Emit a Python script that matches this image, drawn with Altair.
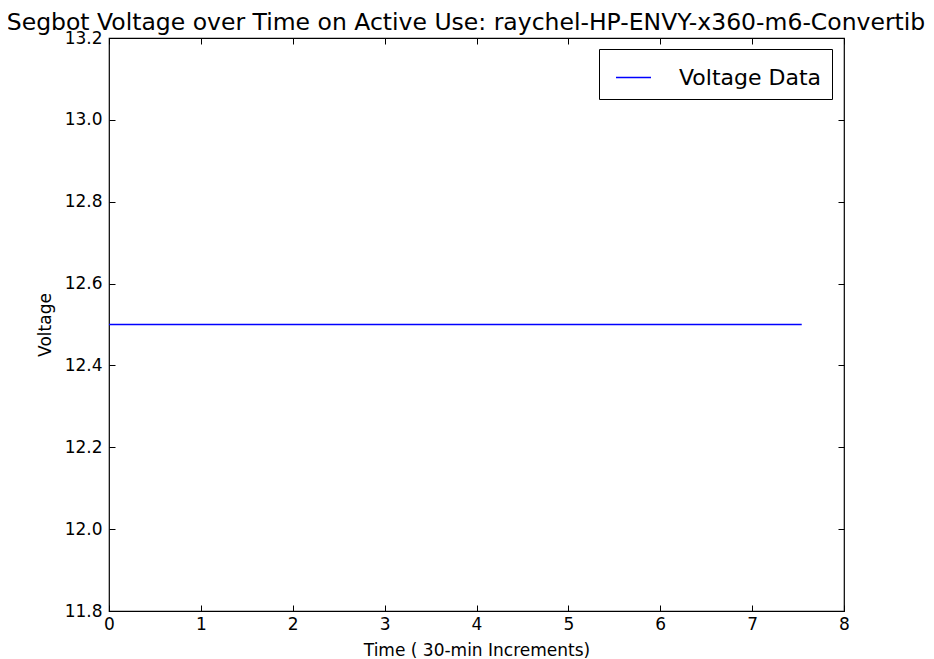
import altair as alt
import pandas as pd

# Data
time_vals = [0.0, 7.54]
voltage_vals = [12.5, 12.5]
series_name = ["Voltage Data", "Voltage Data"]

x_ticks = [0, 1, 2, 3, 4, 5, 6, 7, 8]
y_ticks = [11.8, 12.0, 12.2, 12.4, 12.6, 12.8, 13.0, 13.2]

df = pd.DataFrame({"t": time_vals, "v": voltage_vals, "s": series_name})

FONT = "DejaVu Sans"
W, H = 735, 573
TICK = 6

xs = alt.Scale(domain=[0, 8], nice=False, zero=False)
ys = alt.Scale(domain=[11.8, 13.2], nice=False, zero=False)

chart = alt.Chart(df).mark_line(strokeWidth=1.5).encode(
    x=alt.X("t:Q", scale=xs, axis=alt.Axis(
        orient="bottom", values=x_ticks, format="d", ticks=False, domain=False,
        grid=True, gridColor="black", gridWidth=1, gridOpacity=1,
        gridDash=[TICK, H - 2 * TICK],
        title="Time ( 30-min Increments)", labelFontSize=17,
        labelPadding=5, titleFontSize=17, titleFontWeight="normal", titlePadding=10,
        labelColor="black", titleColor="black", labelFont=FONT, titleFont=FONT,
        labelFlush=False)),
    y=alt.Y("v:Q", scale=ys, axis=alt.Axis(
        orient="left", values=y_ticks, format=".1f", ticks=False, domain=False,
        grid=True, gridColor="black", gridWidth=1, gridOpacity=1,
        gridDash=[TICK, W - 2 * TICK],
        title="Voltage", labelFontSize=17, labelPadding=7,
        titleFontSize=17, titleFontWeight="normal", titlePadding=10,
        labelColor="black", titleColor="black", labelFont=FONT, titleFont=FONT,
        labelFlush=False)),
    color=alt.Color("s:N", scale=alt.Scale(range=["#0000ff"]), legend=alt.Legend(
        title=None, orient="none", legendX=490, legendY=11,
        symbolType="stroke", symbolSize=1225, symbolStrokeWidth=1.5,
        symbolOffset=6,
        labelFontSize=22, labelFont=FONT, labelColor="black",
        strokeColor="black", fillColor="white", padding=10,
        labelOffset=27, cornerRadius=0)),
).properties(
    width=W, height=H,
    title=alt.TitleParams(
        "Segbot Voltage over Time on Active Use: raychel-HP-ENVY-x360-m6-Convertible",
        fontSize=23.5, font=FONT, fontWeight="normal", color="black",
        anchor="middle", offset=0, dy=5),
    autosize=alt.AutoSizeParams(type="none"),
    padding={"left": 101, "top": 30, "right": 82, "bottom": 48},
    background="white",
).configure_view(stroke="black", strokeWidth=1.2)

chart.save("out.html", embed_options={"renderer": "svg", "actions": False})
